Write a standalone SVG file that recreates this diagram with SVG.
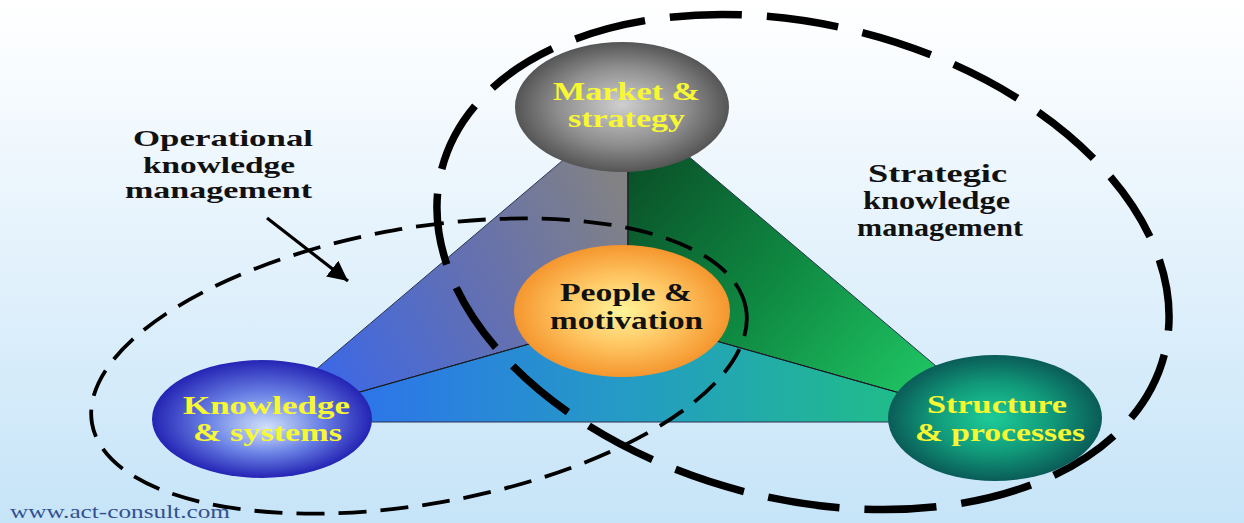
<svg xmlns="http://www.w3.org/2000/svg" width="1244" height="523" viewBox="0 0 1244 523">
<defs>
<linearGradient id="bg" x1="0" y1="0" x2="0" y2="1">
<stop offset="0" stop-color="#ffffff"/><stop offset="0.08" stop-color="#fbfdff"/><stop offset="1" stop-color="#c6e4f8"/>
</linearGradient>
<linearGradient id="gLeft" gradientUnits="userSpaceOnUse" x1="300" y1="380" x2="628" y2="200">
<stop offset="0" stop-color="#3867ec"/><stop offset="0.55" stop-color="#6470b0"/><stop offset="1" stop-color="#828284"/>
</linearGradient>
<linearGradient id="gRight" gradientUnits="userSpaceOnUse" x1="640" y1="150" x2="930" y2="400">
<stop offset="0" stop-color="#0a4f28"/><stop offset="0.5" stop-color="#0f8a42"/><stop offset="1" stop-color="#20c866"/>
</linearGradient>
<linearGradient id="gBottom" gradientUnits="userSpaceOnUse" x1="300" y1="0" x2="960" y2="0">
<stop offset="0" stop-color="#2f6cf2"/><stop offset="0.5" stop-color="#249cc4"/><stop offset="1" stop-color="#1fc47c"/>
</linearGradient>
<radialGradient id="rGray" cx="0.5" cy="0.5" r="0.5" fx="0.5" fy="0.48">
<stop offset="0" stop-color="#cfcfcf"/><stop offset="0.6" stop-color="#8e8e8e"/><stop offset="1" stop-color="#555555"/>
</radialGradient>
<radialGradient id="rOrange" cx="0.5" cy="0.5" r="0.5" fx="0.5" fy="0.5">
<stop offset="0" stop-color="#fff59a"/><stop offset="0.5" stop-color="#ffc865"/><stop offset="1" stop-color="#f5962e"/>
</radialGradient>
<radialGradient id="rBlue" cx="0.5" cy="0.5" r="0.5" fx="0.52" fy="0.58">
<stop offset="0" stop-color="#d2e2fa"/><stop offset="0.5" stop-color="#6c84e6"/><stop offset="1" stop-color="#2424b4"/>
</radialGradient>
<radialGradient id="rTeal" cx="0.5" cy="0.5" r="0.5" fx="0.48" fy="0.5">
<stop offset="0" stop-color="#1ecc98"/><stop offset="0.55" stop-color="#119a7a"/><stop offset="1" stop-color="#0a5c58"/>
</radialGradient>
<marker id="arrow" markerUnits="userSpaceOnUse" markerWidth="22" markerHeight="20" refX="20" refY="10" orient="auto">
<path d="M0,0 L20,10 L0,20 Z" fill="#000"/>
</marker>
<style>
.sec{stroke:#2a3350;stroke-width:1}
.div{stroke:#1a1a1a;stroke-width:1;fill:none}
.lbl{font-family:"Liberation Serif","Times New Roman",serif;font-weight:bold}
.yel{fill:#f8f832;font-size:25px}
.blk{fill:#111111;font-size:25px}
.side{fill:#111111;font-size:24px}
.url{font-family:"Liberation Serif","Times New Roman",serif;fill:#34508e;font-size:19px}
.dashS{fill:none;stroke:#000;stroke-width:7.5;stroke-dasharray:72 25}
.dashO{fill:none;stroke:#000;stroke-width:3.8;stroke-dasharray:28 14}
</style>
</defs>
<rect x="0" y="0" width="1244" height="523" fill="url(#bg)"/>
<g id="triangle">
<polygon class="sec" points="628,105 628,316 254,422" fill="url(#gLeft)"/>
<polygon class="sec" points="628,105 1002,422 628,316" fill="url(#gRight)"/>
<polygon class="sec" points="254,422 628,316 1002,422" fill="url(#gBottom)"/>
</g>
<g id="connectors">
<line class="div" x1="628" y1="105" x2="628" y2="316"/>
<line class="div" x1="254" y1="422" x2="628" y2="316"/>
<line class="div" x1="1002" y1="422" x2="628" y2="316"/>
<line x1="267" y1="218" x2="348" y2="281" stroke="#000" stroke-width="3.2" marker-end="url(#arrow)"/>
</g>
<g id="strategic-boundary">
<ellipse class="dashS" cx="803" cy="262" rx="373" ry="237" transform="rotate(14.4 803 262)"/>
</g>
<g id="operational-boundary">
<ellipse class="dashO" cx="419" cy="366" rx="332" ry="138" transform="rotate(-10 419 366)"/>
</g>
<g id="market">
<ellipse cx="622" cy="107" rx="107" ry="65" fill="url(#rGray)"/>
<text class="lbl yel" x="553" y="100" textLength="147" lengthAdjust="spacingAndGlyphs">Market &amp;</text>
<text class="lbl yel" x="568" y="127" textLength="117" lengthAdjust="spacingAndGlyphs">strategy</text>
</g>
<g id="people">
<ellipse cx="622" cy="311" rx="108" ry="66" fill="url(#rOrange)"/>
<text class="lbl blk" x="560" y="301" textLength="132" lengthAdjust="spacingAndGlyphs">People &amp;</text>
<text class="lbl blk" x="550" y="329" textLength="153" lengthAdjust="spacingAndGlyphs">motivation</text>
</g>
<g id="knowledge">
<ellipse cx="262" cy="419" rx="110" ry="59" fill="url(#rBlue)"/>
<text class="lbl yel" x="183" y="414" textLength="167" lengthAdjust="spacingAndGlyphs">Knowledge</text>
<text class="lbl yel" x="193" y="441" textLength="149" lengthAdjust="spacingAndGlyphs">&amp; systems</text>
</g>
<g id="structure">
<ellipse cx="995" cy="418" rx="107" ry="63" fill="url(#rTeal)"/>
<text class="lbl yel" x="927" y="413" textLength="140" lengthAdjust="spacingAndGlyphs">Structure</text>
<text class="lbl yel" x="915" y="441" textLength="170" lengthAdjust="spacingAndGlyphs">&amp; processes</text>
</g>
<g id="operational-label">
<text class="lbl side" x="133" y="146" textLength="180" lengthAdjust="spacingAndGlyphs">Operational</text>
<text class="lbl side" x="143" y="173" textLength="152" lengthAdjust="spacingAndGlyphs">knowledge</text>
<text class="lbl side" x="125" y="198" textLength="187" lengthAdjust="spacingAndGlyphs">management</text>
</g>
<g id="strategic-label">
<text class="lbl blk" x="868" y="182" textLength="139" lengthAdjust="spacingAndGlyphs">Strategic</text>
<text class="lbl blk" x="863" y="209" textLength="147" lengthAdjust="spacingAndGlyphs">knowledge</text>
<text class="lbl blk" x="857" y="236" textLength="166" lengthAdjust="spacingAndGlyphs">management</text>
</g>
<g id="footer">
<text class="url" x="10" y="518" textLength="220" lengthAdjust="spacingAndGlyphs">www.act-consult.com</text>
</g>
</svg>
